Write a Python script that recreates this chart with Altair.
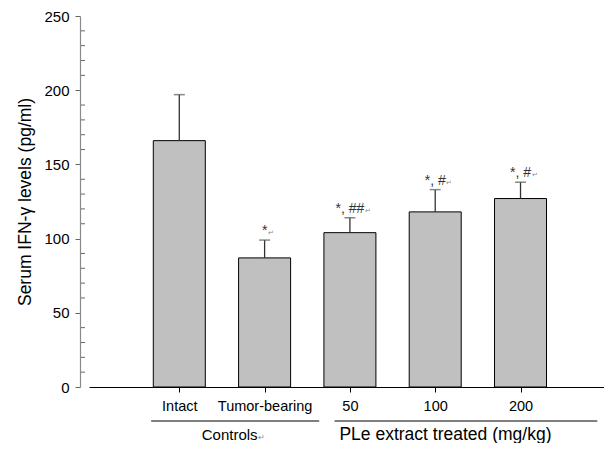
import json
import altair as alt
import pandas as pd

groups = ["Intact", "Tumor-bearing", "50", "100", "200"]
means = [166, 87, 104, 118, 127]
errors = [31, 12, 10, 15, 11]
signif = ["", "*", "*, ##", "*, #", "*, #"]
y_major = [0, 50, 100, 150, 200, 250]
y_minor = [v for v in range(10, 250, 10) if v % 50]
sections = ["Controls", "PLe extract treated (mg/kg)"]
section_start = [-0.33, 1.82]
section_end = [1.64, 4.9]
section_mid = [0.59, 3.12]
section_size = [15, 17.5]
section_mark = ["↵", ""]

FONT = "Liberation Sans"
X_DOMAIN = [-1, 4.92]
WIDTH = 515
HEIGHT = 371
PX_PER_UNIT = WIDTH / (X_DOMAIN[1] - X_DOMAIN[0])

# approximate Arial / Liberation Sans advance widths (em)
CW = {"*": 0.389, ",": 0.278, " ": 0.278, "#": 0.556}
CW_SEC = {"Controls": 3.723, "PLe extract treated (mg/kg)": 12.116}


def text_w(s, size):
    return sum(CW.get(c, 0.556) for c in s) * size


ANN_SIZE = 14
df = pd.DataFrame({
    "idx": list(range(len(groups))),
    "group": groups,
    "mean": means,
    "upper": [m + e for m, e in zip(means, errors)],
    "sig": signif,
    "ret": ["↵" if s else "" for s in signif],
})
df["ret_x"] = df["idx"] + (df["sig"].map(lambda s: text_w(s, ANN_SIZE)) / 2 + 1) / PX_PER_UNIT

minor_df = pd.DataFrame({"v": y_minor})
sec_df = pd.DataFrame({
    "name": sections, "start": section_start, "end": section_end,
    "mid": section_mid, "size": section_size, "ret": section_mark,
})
sec_df["ret_x"] = sec_df["mid"] + (sec_df["name"].map(CW_SEC) * sec_df["size"] / 2 + 1) / PX_PER_UNIT

xscale = alt.Scale(domain=X_DOMAIN, nice=False, zero=False)
yscale = alt.Scale(domain=[0, 250], nice=False)

x_axis = alt.Axis(
    values=list(range(len(groups))),
    labelExpr=json.dumps(groups) + "[datum.value]",
    title=None, grid=False, domainColor="black", domainWidth=1,
    tickColor="black", tickSize=5, labelFontSize=14.5, labelPadding=7,
    labelColor="black", labelFont=FONT,
)
y_axis = alt.Axis(
    values=y_major, title="Serum IFN-γ levels (pg/ml)", offset=9,
    grid=False, domainColor="#8a8a8a", domainWidth=1.2, tickColor="#666",
    tickSize=5, labelFontSize=15, labelColor="black", labelFont=FONT,
    titleFont=FONT, titleFontSize=17.5, titleFontWeight="normal",
    titleColor="black", titlePadding=9, labelPadding=6,
)

base = alt.Chart(df)

bars = base.mark_bar(size=52, fill="#c0c0c0", stroke="black", strokeWidth=1).encode(
    x=alt.X("idx:Q", scale=xscale, axis=x_axis),
    y=alt.Y("mean:Q", scale=yscale, axis=y_axis),
)
err = base.mark_rule(color="#333", strokeWidth=1.3).encode(
    x="idx:Q", y="mean:Q", y2="upper:Q"
)
caps = base.mark_tick(orient="horizontal", size=11, thickness=1.5, color="#555").encode(
    x="idx:Q", y="upper:Q"
)
labels = base.mark_text(baseline="alphabetic", dy=-5, fontSize=ANN_SIZE, font=FONT,
                        color="#333").encode(
    x="idx:Q", y="upper:Q", text="sig:N"
)
rets = base.mark_text(baseline="alphabetic", align="left", dy=-5, fontSize=7, font=FONT,
                      color="#888").encode(
    x="ret_x:Q", y="upper:Q", text="ret:N"
)
minor = alt.Chart(minor_df).mark_rule(color="#666").encode(
    y=alt.Y("v:Q", scale=yscale), x=alt.value(-8), x2=alt.value(-4)
)
sec_lines = alt.Chart(sec_df).mark_rule(color="black", strokeWidth=1).encode(
    x=alt.X("start:Q", scale=xscale), x2="end:Q", y=alt.value(HEIGHT + 34)
)
sec_text = alt.Chart(sec_df).mark_text(baseline="middle", font=FONT, color="black").encode(
    x=alt.X("mid:Q", scale=xscale), y=alt.value(HEIGHT + 47.5), text="name:N",
    size=alt.Size("size:Q", scale=None, legend=None),
)
sec_ret = alt.Chart(sec_df).mark_text(baseline="alphabetic", align="left", font=FONT,
                                      fontSize=8, color="#888").encode(
    x=alt.X("ret_x:Q", scale=xscale), y=alt.value(HEIGHT + 53), text="ret:N"
)

chart = alt.layer(bars, err, caps, labels, rets, minor, sec_lines, sec_text, sec_ret).properties(
    width=WIDTH, height=HEIGHT, padding={"left": 8, "top": 1, "right": 0, "bottom": 0}
).configure_view(stroke=None)

chart.save("out.html", embed_options={"renderer": "svg", "actions": False})
